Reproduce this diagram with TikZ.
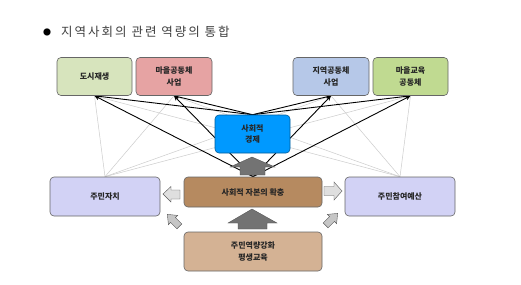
\documentclass[tikz,border=0pt]{standalone}
\usepackage{fontspec}
\newfontfamily\kr{Noto Sans CJK KR}
\newfontfamily\krt[LetterSpace=16]{Noto Sans CJK KR}
\usetikzlibrary{arrows.meta,backgrounds}
\definecolor{cA}{RGB}{215,228,189}
\definecolor{cB}{RGB}{230,163,163}
\definecolor{cC}{RGB}{182,200,232}
\definecolor{cD}{RGB}{192,218,145}
\definecolor{cE}{RGB}{0,153,255}
\definecolor{cF}{RGB}{182,138,96}
\definecolor{cG}{RGB}{212,178,148}
\definecolor{cH}{RGB}{210,210,245}
\definecolor{ttl}{RGB}{64,64,64}
\definecolor{dg}{RGB}{115,115,115}
\tikzset{
  box/.style={draw=gray!80!black, line width=0.6pt, rounded corners=4pt, align=center,
    inner sep=0pt, font=\kr\bfseries\fontsize{8}{11.5}\selectfont, text=black!85},
  blk/.style={draw=black, line width=0.9pt, -{Stealth[length=5pt,width=4.5pt]}},
  lgt/.style={draw=gray!40, line width=0.5pt},
  bigarrow/.style={fill=dg, draw=gray!60!black, line width=0.3pt},
  smallarrow/.style={fill=gray!25, draw=gray!70!black, line width=0.4pt},
  diagarrow/.style={fill=gray!45, draw=gray!70!black, line width=0.4pt}
}
\begin{document}
\begin{tikzpicture}[x=1pt,y=-1pt]
\useasboundingbox (0,0) rectangle (521,284);
% title
\node[anchor=center, inner sep=0pt, font=\kr\fontsize{8}{8}\selectfont, text=black] (bullet) at (47,32) {●};
\node[anchor=west, inner sep=0pt, font=\krt\fontsize{12.5}{12.5}\selectfont, text=ttl] (title) at (61,32) {지역사회의 관련 역량의 통합};
% boxes
\node[box, fill=cA, minimum width=75pt, minimum height=38pt] (a) at (94.5,76.5) {도시재생};
\node[box, fill=cB, minimum width=76pt, minimum height=38pt] (b) at (174,76.5) {마을공동체\\사업};
\node[box, fill=cC, minimum width=76pt, minimum height=38pt] (c) at (331,76.5) {지역공동체\\사업};
\node[box, fill=cD, minimum width=75pt, minimum height=38pt] (d) at (410.5,76.5) {마을교육\\공동체};
\node[box, fill=cE, draw=cE!60!black, minimum width=75pt, minimum height=38pt] (e) at (252.5,134) {사회적\\경제};
\node[box, fill=cF, minimum width=138pt, minimum height=30pt] (f) at (253,192) {사회적 자본의 확충};
\node[box, fill=cG, minimum width=138pt, minimum height=39pt] (g) at (253,251.5) {주민역량강화\\평생교육};
\node[box, fill=cH, minimum width=110pt, minimum height=39pt] (h) at (105,196.5) {주민자치};
\node[box, fill=cH, minimum width=110pt, minimum height=39pt] (i) at (400,196.5) {주민참여예산};
\begin{scope}[on background layer]
  \fill[white] (0,0) rectangle (521,284);
  \foreach \t in {a,b,c,d} {
    \draw[lgt] (h.north) -- (\t.south);
    \draw[lgt] (i.north) -- (\t.south);
  }
  \foreach \t in {a,b,c,d} {
    \draw[blk] (f.north) -- (\t.south);
    \draw[blk] (e.north) -- (\t.south);
  }
\end{scope}
% block arrows
\draw[bigarrow] (252,157) -- (275,167) -- (265,167) -- (265,175) -- (240,175) -- (240,167) -- (230,167) -- cycle;
\draw[bigarrow] (252,209) -- (277,223) -- (267,223) -- (267,229) -- (238,229) -- (238,223) -- (228,223) -- cycle;
\draw[smallarrow] (163,194) -- (171,186.5) -- (171,190) -- (180,190) -- (180,199) -- (171,199) -- (171,202) -- cycle;
\draw[smallarrow] (342,191) -- (334,182) -- (334,186.5) -- (324,186.5) -- (324,195.5) -- (334,195.5) -- (334,200) -- cycle;
\begin{scope}[shift={(173,220)}, rotate=135]
  \draw[diagarrow] (8,0) -- (0,6.5) -- (0,3.5) -- (-9,3.5) -- (-9,-3.5) -- (0,-3.5) -- (0,-6.5) -- cycle;
\end{scope}
\begin{scope}[shift={(332,219)}, rotate=45]
  \draw[diagarrow] (8,0) -- (0,6.5) -- (0,3.5) -- (-9,3.5) -- (-9,-3.5) -- (0,-3.5) -- (0,-6.5) -- cycle;
\end{scope}
\end{tikzpicture}
\end{document}
